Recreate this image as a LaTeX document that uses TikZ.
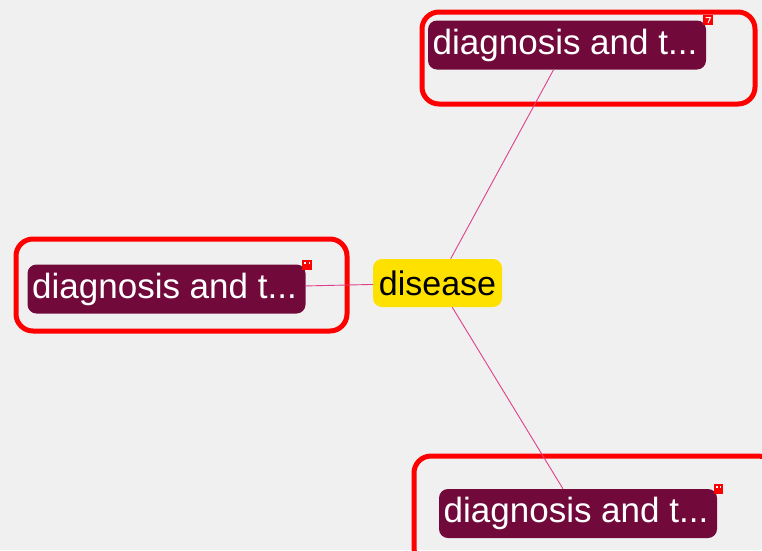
\documentclass[tikz,border=0pt]{standalone}
\usepackage{fontspec}
\setmainfont{Liberation Sans}
\definecolor{bgc}{HTML}{F0F0F0}
\definecolor{topicc}{HTML}{710A3B}
\definecolor{rootc}{HTML}{FFE100}
\definecolor{linkc}{HTML}{E0408A}
\definecolor{framec}{HTML}{FF0000}
\begin{document}
\begin{tikzpicture}[x=1pt,y=-1pt,
  topicbox/.style={fill=topicc,text=white,rounded corners=9pt,minimum width=278pt,minimum height=49pt,inner sep=0pt,font=\fontsize{35}{40}\selectfont},
  rootbox/.style={fill=rootc,text=black,rounded corners=9pt,minimum width=129pt,minimum height=48pt,inner sep=0pt,font=\fontsize{34}{40}\selectfont},
  linkline/.style={draw=linkc,line width=0.9pt},
  selframe/.style={draw=framec,line width=5pt,rounded corners=17pt},
  flagicon/.style={fill=framec}]
\useasboundingbox (0,0) rectangle (762,550);
\clip (0,0) rectangle (762,550);
\fill[bgc] (0,0) rectangle (762,550);
% selection frames
\draw[selframe] (422,12) rectangle (755,104);
\draw[selframe] (16,239) rectangle (347,331);
\draw[selframe] (414,456) rectangle (775,565);
% nodes
\node[rootbox] (root) at (437.5,283) {disease};
\node[topicbox] (t1) at (567,45) {\hspace*{-4pt}diagnosis and t...};
\node[topicbox] (t2) at (166.5,289) {\hspace*{-4pt}diagnosis and t...};
\node[topicbox] (t3) at (578,513.5) {\hspace*{-4pt}diagnosis and t...};
% connectors
\draw[linkline] (root) -- (t1);
\draw[linkline] (root) -- (t2);
\draw[linkline] (root) -- (t3);
% small flag icons
\fill[flagicon] (703,15) rectangle (713,25);
\draw[white,line width=1pt] (705.5,17.5) -- (710.5,17.5) -- (708,23);
\fill[flagicon] (302,260) rectangle (312,270);
\fill[white] (304,262) rectangle (305.5,263.5);
\fill[white] (308.5,262) rectangle (310,263.5);
\fill[flagicon] (714,484) rectangle (723,494);
\fill[white] (716,486) rectangle (717.5,487.5);
\fill[white] (719.5,486) rectangle (721,487.5);
\end{tikzpicture}
\end{document}
